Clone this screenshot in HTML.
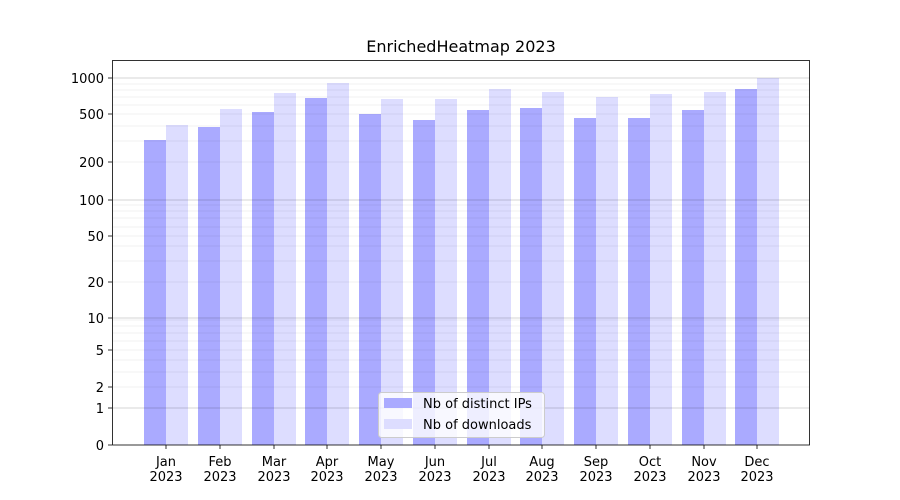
<!DOCTYPE html>
<html><head><meta charset="utf-8"><style>body{margin:0;background:#fff}svg{display:block}text{font-family:"DejaVu Sans","Liberation Sans",sans-serif;fill:#000}</style></head>
<body>
<svg width="900" height="500" viewBox="0 0 900 500" xmlns="http://www.w3.org/2000/svg">
<rect width="900" height="500" fill="#fff"/>
<g>
<rect x="144" y="140" width="22" height="305" fill="#aaaaff"/><rect x="166" y="125" width="22" height="320" fill="#ddddff"/>
<rect x="198" y="127" width="22" height="318" fill="#aaaaff"/><rect x="220" y="109" width="22" height="336" fill="#ddddff"/>
<rect x="252" y="112" width="22" height="333" fill="#aaaaff"/><rect x="274" y="93" width="22" height="352" fill="#ddddff"/>
<rect x="305" y="98" width="22" height="347" fill="#aaaaff"/><rect x="327" y="83" width="22" height="362" fill="#ddddff"/>
<rect x="359" y="114" width="22" height="331" fill="#aaaaff"/><rect x="381" y="99" width="22" height="346" fill="#ddddff"/>
<rect x="413" y="120" width="22" height="325" fill="#aaaaff"/><rect x="435" y="99" width="22" height="346" fill="#ddddff"/>
<rect x="467" y="110" width="22" height="335" fill="#aaaaff"/><rect x="489" y="89" width="22" height="356" fill="#ddddff"/>
<rect x="520" y="108" width="22" height="337" fill="#aaaaff"/><rect x="542" y="92" width="22" height="353" fill="#ddddff"/>
<rect x="574" y="118" width="22" height="327" fill="#aaaaff"/><rect x="596" y="97" width="22" height="348" fill="#ddddff"/>
<rect x="628" y="118" width="22" height="327" fill="#aaaaff"/><rect x="650" y="94" width="22" height="351" fill="#ddddff"/>
<rect x="682" y="110" width="22" height="335" fill="#aaaaff"/><rect x="704" y="92" width="22" height="353" fill="#ddddff"/>
<rect x="735" y="89" width="22" height="356" fill="#aaaaff"/><rect x="757" y="78" width="22" height="367" fill="#ddddff"/>
</g>
<g stroke="#000" stroke-opacity="0.08" stroke-width="0.8">
<line x1="112" x2="810" y1="387" y2="387"/><line x1="112" x2="810" y1="372" y2="372"/><line x1="112" x2="810" y1="360" y2="360"/><line x1="112" x2="810" y1="350" y2="350"/><line x1="112" x2="810" y1="341" y2="341"/><line x1="112" x2="810" y1="333" y2="333"/><line x1="112" x2="810" y1="326" y2="326"/><line x1="112" x2="810" y1="320" y2="320"/>
<line x1="112" x2="810" y1="282" y2="282"/><line x1="112" x2="810" y1="261" y2="261"/><line x1="112" x2="810" y1="246" y2="246"/><line x1="112" x2="810" y1="236" y2="236"/><line x1="112" x2="810" y1="227" y2="227"/><line x1="112" x2="810" y1="218" y2="218"/><line x1="112" x2="810" y1="211" y2="211"/><line x1="112" x2="810" y1="205" y2="205"/>
<line x1="112" x2="810" y1="162" y2="162"/><line x1="112" x2="810" y1="141" y2="141"/><line x1="112" x2="810" y1="126" y2="126"/><line x1="112" x2="810" y1="114" y2="114"/><line x1="112" x2="810" y1="105" y2="105"/><line x1="112" x2="810" y1="97" y2="97"/><line x1="112" x2="810" y1="90" y2="90"/><line x1="112" x2="810" y1="84" y2="84"/>
</g>
<g stroke="#000" stroke-opacity="0.22" stroke-width="0.8">
<line x1="112" x2="810" y1="408" y2="408"/><line x1="112" x2="810" y1="318" y2="318"/><line x1="112" x2="810" y1="200" y2="200"/><line x1="112" x2="810" y1="78" y2="78"/>
</g>
<rect x="112.5" y="60.5" width="697" height="384.5" fill="none" stroke="#000" stroke-width="0.8"/>
<g stroke="#000" stroke-width="0.8">
<line x1="108" x2="112" y1="445" y2="445"/><line x1="108" x2="112" y1="408" y2="408"/><line x1="108" x2="112" y1="387" y2="387"/><line x1="108" x2="112" y1="350" y2="350"/><line x1="108" x2="112" y1="318" y2="318"/><line x1="108" x2="112" y1="282" y2="282"/><line x1="108" x2="112" y1="236" y2="236"/><line x1="108" x2="112" y1="200" y2="200"/><line x1="108" x2="112" y1="162" y2="162"/><line x1="108" x2="112" y1="114" y2="114"/><line x1="108" x2="112" y1="78" y2="78"/>
<line x1="166" x2="166" y1="445" y2="449"/><line x1="220" x2="220" y1="445" y2="449"/><line x1="274" x2="274" y1="445" y2="449"/><line x1="327" x2="327" y1="445" y2="449"/><line x1="381" x2="381" y1="445" y2="449"/><line x1="435" x2="435" y1="445" y2="449"/><line x1="489" x2="489" y1="445" y2="449"/><line x1="542" x2="542" y1="445" y2="449"/><line x1="596" x2="596" y1="445" y2="449"/><line x1="650" x2="650" y1="445" y2="449"/><line x1="704" x2="704" y1="445" y2="449"/><line x1="757" x2="757" y1="445" y2="449"/>
</g>
<g font-size="13" text-anchor="end">
<text x="104" y="450">0</text><text x="104" y="413">1</text><text x="104" y="392">2</text><text x="104" y="355">5</text><text x="104" y="323">10</text><text x="104" y="287">20</text><text x="104" y="241">50</text><text x="104" y="205">100</text><text x="104" y="167">200</text><text x="104" y="119">500</text><text x="104" y="83">1000</text>
</g>
<g font-size="13" text-anchor="middle">
<text x="166" y="466">Jan</text><text x="166" y="481">2023</text>
<text x="220" y="466">Feb</text><text x="220" y="481">2023</text>
<text x="274" y="466">Mar</text><text x="274" y="481">2023</text>
<text x="327" y="466">Apr</text><text x="327" y="481">2023</text>
<text x="381" y="466">May</text><text x="381" y="481">2023</text>
<text x="435" y="466">Jun</text><text x="435" y="481">2023</text>
<text x="489" y="466">Jul</text><text x="489" y="481">2023</text>
<text x="542" y="466">Aug</text><text x="542" y="481">2023</text>
<text x="596" y="466">Sep</text><text x="596" y="481">2023</text>
<text x="650" y="466">Oct</text><text x="650" y="481">2023</text>
<text x="704" y="466">Nov</text><text x="704" y="481">2023</text>
<text x="757" y="466">Dec</text><text x="757" y="481">2023</text>
</g>
<text x="461" y="52" font-size="16" text-anchor="middle">EnrichedHeatmap 2023</text>
<rect x="378.5" y="392.5" width="166" height="45" rx="3" fill="#fff" fill-opacity="0.8" stroke="#ccc"/>
<rect x="384" y="398" width="28" height="10" fill="#aaaaff"/>
<rect x="384" y="419" width="28" height="10" fill="#ddddff"/>
<text x="423" y="408" font-size="13">Nb of distinct IPs</text>
<text x="423" y="429" font-size="13">Nb of downloads</text>
</svg>
</body></html>
